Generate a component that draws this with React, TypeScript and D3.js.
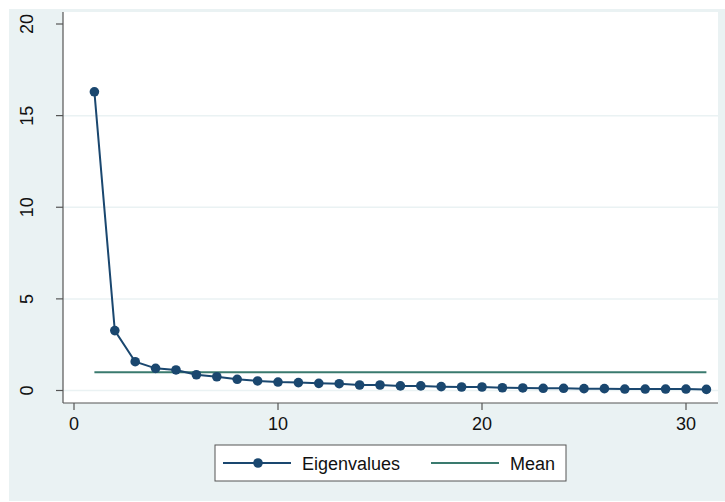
import React from "react";
import * as d3 from "d3";

const components: number[] = Array.from({ length: 31 }, (_, i) => i + 1);
const eigenvalues: number[] = [
  16.3, 3.27, 1.57, 1.21, 1.12, 0.86, 0.75, 0.61, 0.52, 0.46,
  0.43, 0.39, 0.37, 0.3, 0.3, 0.25, 0.25, 0.21, 0.19, 0.19,
  0.15, 0.14, 0.12, 0.12, 0.1, 0.1, 0.08, 0.08, 0.08, 0.08, 0.06,
];
const meanValue = 1;
const xTicks: number[] = [0, 10, 20, 30];
const yTicks: number[] = [0, 5, 10, 15, 20];
const gridTicks: number[] = [0, 5, 10, 15];
const legendLabels: string[] = ["Eigenvalues", "Mean"];

const BG = "#eaf2f3";
const NAVY = "#1a476f";
const TEAL = "#3a7a6e";
const AXIS = "#555";
const FONT = "'Liberation Sans', Arial, sans-serif";

export default function App() {
  const W = 725, H = 502;
  const plot = { left: 63, top: 12, right: 718, bottom: 403 };
  const x = d3.scaleLinear().domain([0, 30]).range([74, 686]);
  const y = d3.scaleLinear().domain([0, 20]).range([390.5, 24]);

  const line = d3
    .line<number>()
    .x((_, i) => x(components[i]))
    .y((d) => y(d));

  return (
    <svg
      width={W}
      height={H}
      style={{ position: "absolute", left: 0, top: 0 }}
      fontFamily={FONT}
    >
      <rect x={0} y={0} width={W} height={H} fill="#fff" />
      <rect x={9} y={9} width={W - 9} height={H - 10} fill={BG} />
      <rect
        x={plot.left}
        y={plot.top}
        width={plot.right - plot.left}
        height={plot.bottom - plot.top}
        fill="#fff"
      />
      {gridTicks.map((t) => (
        <line
          key={"g" + t}
          x1={plot.left}
          x2={plot.right}
          y1={y(t)}
          y2={y(t)}
          stroke={BG}
          strokeWidth={1.5}
        />
      ))}
      {/* y axis */}
      <line x1={plot.left} x2={plot.left} y1={plot.top} y2={plot.bottom} stroke={AXIS} strokeWidth={1.2} />
      {yTicks.map((t) => (
        <g key={"y" + t}>
          <line x1={plot.left - 7} x2={plot.left} y1={y(t)} y2={y(t)} stroke={AXIS} strokeWidth={1.2} />
          <text
            transform={`translate(${32.5},${y(t)}) rotate(-90)`}
            textAnchor="middle"
            fontSize={18}
            fill="#111"
          >
            {t}
          </text>
        </g>
      ))}
      {/* x axis */}
      <line x1={plot.left} x2={plot.right} y1={plot.bottom} y2={plot.bottom} stroke={AXIS} strokeWidth={1.2} />
      {xTicks.map((t) => (
        <g key={"x" + t}>
          <line x1={x(t)} x2={x(t)} y1={plot.bottom} y2={plot.bottom + 7} stroke={AXIS} strokeWidth={1.2} />
          <text x={x(t)} y={429.5} textAnchor="middle" fontSize={18} fill="#111">
            {t}
          </text>
        </g>
      ))}
      {/* mean line */}
      <line
        x1={x(components[0])}
        x2={x(components[components.length - 1])}
        y1={y(meanValue)}
        y2={y(meanValue)}
        stroke={TEAL}
        strokeWidth={2}
      />
      {/* eigenvalues */}
      <path d={line(eigenvalues) || ""} fill="none" stroke={NAVY} strokeWidth={2} />
      {eigenvalues.map((v, i) => (
        <circle key={"p" + i} cx={x(components[i])} cy={y(v)} r={4.8} fill={NAVY} />
      ))}
      {/* legend */}
      <rect x={215} y={445} width={351} height={36} fill="#fff" stroke={AXIS} strokeWidth={1} />
      <line x1={223} x2={291} y1={463} y2={463} stroke={NAVY} strokeWidth={2} />
      <circle cx={258} cy={463} r={4.8} fill={NAVY} />
      <text x={302} y={469.5} fontSize={18} fill="#111">
        {legendLabels[0]}
      </text>
      <line x1={431} x2={499} y1={463} y2={463} stroke={TEAL} strokeWidth={2} />
      <text x={510} y={469.5} fontSize={18} fill="#111">
        {legendLabels[1]}
      </text>
    </svg>
  );
}
